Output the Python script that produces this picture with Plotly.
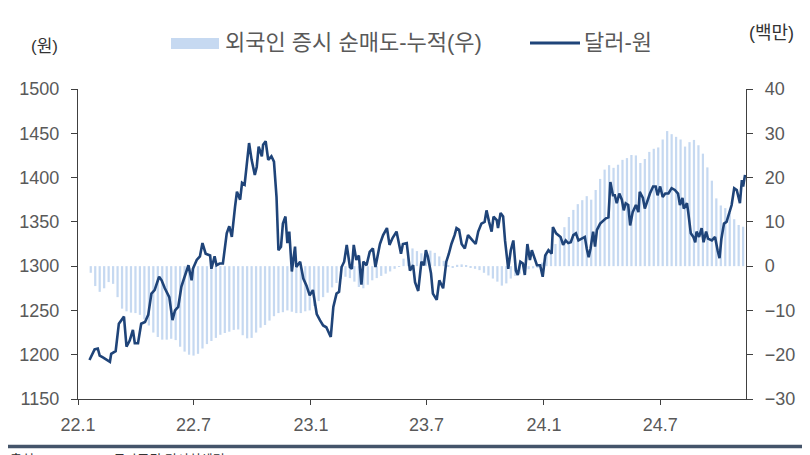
import pandas as pd
import plotly.graph_objects as go

# ---------------- data ----------------
fx_dates = [
"2022-01-19","2022-01-27","2022-02-01","2022-02-04","2022-02-09","2022-02-15","2022-02-20","2022-02-22",
"2022-03-01","2022-03-06","2022-03-10","2022-03-14","2022-03-18","2022-03-23","2022-03-28","2022-03-31",
"2022-04-05","2022-04-10","2022-04-16","2022-04-21","2022-04-26","2022-05-01","2022-05-08","2022-05-12",
"2022-05-17","2022-05-24","2022-05-29","2022-06-02","2022-06-07","2022-06-12","2022-06-17","2022-06-23",
"2022-06-28","2022-06-30","2022-07-06","2022-07-11","2022-07-15","2022-07-20","2022-07-27","2022-07-29",
"2022-08-03","2022-08-06","2022-08-11","2022-08-16","2022-08-22","2022-08-26","2022-08-30","2022-09-01",
"2022-09-04","2022-09-07","2022-09-12","2022-09-15","2022-09-19","2022-09-22","2022-09-26","2022-09-30",
"2022-10-05","2022-10-08","2022-10-11","2022-10-16","2022-10-18","2022-10-22","2022-10-26","2022-10-31",
"2022-11-04","2022-11-08","2022-11-11","2022-11-15","2022-11-18","2022-11-22","2022-11-25","2022-11-28",
"2022-12-02","2022-12-07","2022-12-09","2022-12-15","2022-12-20","2022-12-25","2022-12-30",
"2023-01-04","2023-01-10","2023-01-15","2023-01-20","2023-01-25","2023-02-01","2023-02-05","2023-02-10",
"2023-02-14","2023-02-18","2023-02-22","2023-02-26","2023-03-03","2023-03-06","2023-03-09","2023-03-13",
"2023-03-17","2023-03-21","2023-03-24","2023-03-29","2023-04-03","2023-04-08","2023-04-12","2023-04-19",
"2023-04-24","2023-04-30","2023-05-04","2023-05-09","2023-05-15","2023-05-22","2023-05-25","2023-05-31",
"2023-06-05","2023-06-10","2023-06-13","2023-06-18","2023-06-23","2023-06-27","2023-06-30","2023-07-03",
"2023-07-08","2023-07-11","2023-07-17","2023-07-21","2023-07-27","2023-08-01","2023-08-05","2023-08-09",
"2023-08-14","2023-08-17","2023-08-21","2023-08-25","2023-08-30","2023-09-04","2023-09-11","2023-09-16",
"2023-09-20","2023-09-25","2023-09-30","2023-10-03","2023-10-07","2023-10-11","2023-10-14","2023-10-19",
"2023-10-21","2023-10-25","2023-10-29","2023-11-01","2023-11-06","2023-11-10","2023-11-14","2023-11-18",
"2023-11-21","2023-11-25","2023-11-29","2023-12-02","2023-12-06","2023-12-10","2023-12-13","2023-12-18",
"2023-12-21","2023-12-26","2023-12-30",
"2024-01-03","2024-01-08","2024-01-13","2024-01-15","2024-01-20","2024-01-23","2024-01-27","2024-01-31",
"2024-02-04","2024-02-08","2024-02-12","2024-02-16","2024-02-20","2024-02-24","2024-02-29","2024-03-05",
"2024-03-08","2024-03-11","2024-03-14","2024-03-18","2024-03-21","2024-03-24","2024-03-29","2024-04-03",
"2024-04-07","2024-04-11","2024-04-14","2024-04-18","2024-04-21","2024-04-24","2024-04-28","2024-05-02",
"2024-05-05","2024-05-08","2024-05-12","2024-05-15","2024-05-19","2024-05-24","2024-05-28","2024-05-30",
"2024-06-04","2024-06-07","2024-06-11","2024-06-15","2024-06-20","2024-06-24","2024-06-27","2024-07-01",
"2024-07-05","2024-07-09","2024-07-14","2024-07-19","2024-07-24","2024-07-29","2024-08-01","2024-08-05",
"2024-08-07","2024-08-12","2024-08-14","2024-08-18","2024-08-22","2024-08-25","2024-08-27","2024-08-31",
"2024-09-04","2024-09-07","2024-09-11","2024-09-14","2024-09-20","2024-09-25","2024-09-29","2024-10-02",
"2024-10-05","2024-10-09","2024-10-13","2024-10-17","2024-10-21","2024-10-25","2024-10-29","2024-10-31",
"2024-11-03","2024-11-06","2024-11-08","2024-11-11",
]
usd_krw = [
1194,1206,1207,1199,1197,1194,1192,1201,
1204,1235,1239,1243,1209,1216,1228,1213,
1213,1235,1237,1245,1269,1273,1288,1284,
1275,1265,1239,1250,1254,1277,1288,1301,
1284,1297,1307,1311,1326,1314,1312,1297,
1311,1301,1303,1303,1337,1345,1333,1350,
1367,1384,1375,1394,1392,1412,1439,1420,
1403,1412,1435,1424,1437,1441,1420,1424,
1418,1378,1318,1322,1348,1356,1326,1339,
1294,1322,1299,1305,1286,1278,1267,
1273,1246,1239,1233,1231,1220,1254,1269,
1271,1299,1305,1324,1299,1297,1324,1307,
1312,1279,1305,1301,1316,1320,1299,1325,
1335,1343,1324,1332,1339,1314,1325,1326,
1295,1301,1282,1272,1305,1301,1318,1311,
1292,1269,1262,1284,1275,1305,1314,1325,
1335,1343,1341,1325,1320,1335,1329,1325,
1339,1348,1350,1363,1350,1339,1356,1352,
1343,1360,1356,1329,1297,1318,1329,1295,
1290,1305,1303,1290,1325,1307,1318,1307,
1301,1301,1288,
1312,1318,1314,1344,1337,1335,1333,1324,
1329,1326,1327,1335,1337,1329,1331,1333,
1320,1310,1320,1339,1322,1341,1348,1352,
1354,1355,1395,1380,1380,1371,1382,1375,
1363,1371,1369,1346,1361,1369,1361,1384,
1377,1365,1374,1382,1390,1390,1380,1390,
1378,1382,1382,1388,1386,1382,1369,1377,
1365,1371,1361,1337,1333,1327,1339,1333,
1343,1327,1339,1331,1329,1333,1318,1309,
1331,1348,1350,1360,1369,1388,1386,1380,
1371,1397,1390,1403,
]

# weekly cumulative net selling by foreigners (right axis, 백만)
flow_start = "2022-01-21"
foreign_cum = [
-1.5,-4.5,-5.8,-5.0,-3.6,-4.0,-7.0,-9.6,-10.2,-10.5,
-10.6,-11.0,-12.0,-13.4,-15.0,-16.0,-16.6,-16.6,-16.4,-16.7,
-18.2,-19.3,-20.0,-20.2,-19.8,-18.6,-17.6,-16.9,-16.2,-15.5,
-15.1,-14.8,-14.4,-14.3,-15.6,-16.3,-16.2,-15.0,-13.9,-13.3,
-12.3,-11.3,-10.6,-10.4,-10.0,-10.3,-10.6,-10.6,-10.2,-10.0,
-9.0,-7.9,-7.0,-6.0,-4.8,-3.8,-2.9,-2.4,-2.7,-3.5,
-4.7,-5.0,-4.2,-3.2,-2.7,-2.2,-1.7,-1.2,-0.6,-0.1,
1.7,3.5,4.0,3.4,2.9,3.3,3.5,3.0,2.2,1.2,
0.2,-0.2,0.3,0.4,0.1,-0.4,-0.6,-0.9,-1.5,-2.1,
-2.8,-3.5,-4.4,-3.9,-2.8,-2.2,-1.7,-1.1,-0.7,-0.5,
-0.2,0.8,2.6,3.9,5.0,6.8,8.8,11.1,12.7,14.0,
14.9,15.8,15.0,17.2,19.7,21.8,22.8,22.2,22.9,24.0,
24.4,25.1,25.0,23.3,24.2,25.8,26.5,26.8,28.6,30.5,
29.8,29.2,28.6,27.0,28.0,28.5,27.3,25.4,22.3,19.3,
15.3,13.7,13.1,12.0,10.6,9.3,8.9,
]
flow_dates = pd.date_range(flow_start, periods=len(foreign_cum), freq="7D")

tick_dates = ["2022-01-01", "2022-07-01", "2023-01-01", "2023-07-01", "2024-01-01", "2024-07-01"]
tick_labels = ["22.1", "22.7", "23.1", "23.7", "24.1", "24.7"]

legend_bar = "외국인 증시 순매도-누적(우)"
legend_line = "달러-원"
left_unit = "(원)"
right_unit = "(백만)"
source_text = "출처: Infomax, NH투자증권 리서치센터"

# ---------------- style ----------------
BAR_COLOR = "#c6d9f1"
LINE_COLOR = "#1f4479"
AXIS_COLOR = "#404040"
TEXT_COLOR = "#595959"
FONT = "Liberation Sans, Noto Sans CJK KR, sans-serif"

OFF = 8  # default page body margin of the browser
W, H = 810 - OFF, 455 - OFF
L, R, T, B = 78 - OFF, 64, 89 - OFF, 56
pw, ph = W - L - R, H - T - B


def px(x):  # page pixel -> paper x
    return (x - OFF - L) / pw


def py(y):  # page pixel -> paper y
    return (H - B - (y - OFF)) / ph


fig = go.Figure()
fig.add_trace(go.Bar(
    x=flow_dates, y=foreign_cum, yaxis="y",
    marker=dict(color=BAR_COLOR, line=dict(width=0)),
    name=legend_bar, showlegend=False,
))
fig.add_trace(go.Scatter(
    x=pd.to_datetime(fx_dates), y=usd_krw, yaxis="y2", mode="lines",
    line=dict(color=LINE_COLOR, width=2.6),
    name=legend_line, showlegend=False,
))

axis_common = dict(
    showline=True, linecolor=AXIS_COLOR, linewidth=1.3,
    ticks="outside", tickcolor=AXIS_COLOR, ticklen=6, tickwidth=1.3,
    showgrid=False, zeroline=False,
    tickfont=dict(size=18, color=TEXT_COLOR, family=FONT),
)

fig.update_layout(
    width=W, height=H, autosize=False,
    margin=dict(l=L, r=R, t=T, b=B),
    paper_bgcolor="white", plot_bgcolor="white",
    font=dict(family=FONT, color=TEXT_COLOR),
    bargap=0.5,
    xaxis=dict(
        type="date", range=["2022-01-01", "2024-11-12 12:00"],
        tickvals=tick_dates, ticktext=tick_labels,
        ticklen=5, ticklabelstandoff=4,
        **{k: v for k, v in axis_common.items() if k != "ticklen"},
    ),
    yaxis=dict(
        side="right", range=[-30, 40], dtick=10, ticklabelstandoff=8,
        **axis_common,
    ),
    yaxis2=dict(
        side="left", overlaying="y", range=[1150, 1500], dtick=50, ticklabelstandoff=8,
        **axis_common,
    ),
    showlegend=False,
)

# manual legend
fig.add_shape(type="rect", xref="paper", yref="paper",
              x0=px(171), x1=px(219), y0=py(49), y1=py(38),
              fillcolor=BAR_COLOR, line=dict(width=0))
fig.add_annotation(x=px(223), y=py(43), xref="paper", yref="paper", text=legend_bar,
                   showarrow=False, xanchor="left", yanchor="middle",
                   font=dict(size=22, color=TEXT_COLOR, family=FONT))
fig.add_shape(type="line", xref="paper", yref="paper",
              x0=px(530), x1=px(580), y0=py(43), y1=py(43),
              line=dict(color=LINE_COLOR, width=3))
fig.add_annotation(x=px(582), y=py(43), xref="paper", yref="paper", text=legend_line,
                   showarrow=False, xanchor="left", yanchor="middle",
                   font=dict(size=22, color=TEXT_COLOR, family=FONT))
fig.add_annotation(x=px(44), y=py(47), xref="paper", yref="paper", text=left_unit,
                   showarrow=False, xanchor="center", yanchor="middle",
                   font=dict(size=17, color="#333333", family=FONT))
fig.add_annotation(x=px(771), y=py(33), xref="paper", yref="paper", text=right_unit,
                   showarrow=False, xanchor="center", yanchor="middle",
                   font=dict(size=18, color="#333333", family=FONT))

# bottom separator and (cropped) source line
fig.add_shape(type="line", xref="paper", yref="paper",
              x0=px(0), x1=px(810), y0=py(446.5), y1=py(446.5),
              line=dict(color="#44546a", width=3.5))
fig.add_annotation(x=px(8), y=py(450), xref="paper", yref="paper", text=source_text,
                   showarrow=False, xanchor="left", yanchor="top",
                   font=dict(size=13, color="#333333", family=FONT))

fig.write_html("out.html", config={"displayModeBar": False})
